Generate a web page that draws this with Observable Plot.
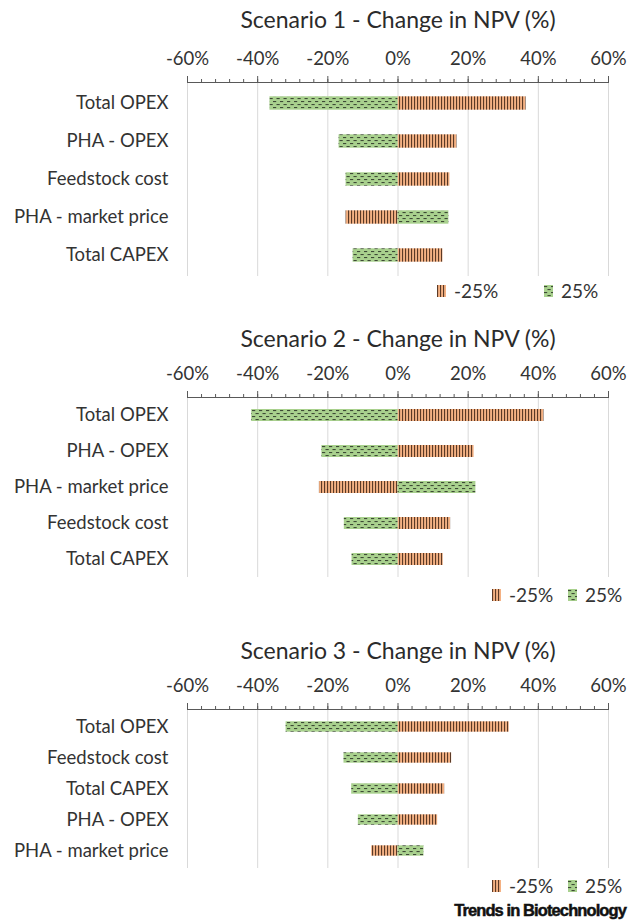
<!DOCTYPE html>
<html><head><meta charset="utf-8">
<script src="https://cdn.jsdelivr.net/npm/d3@7"></script>
<script src="https://cdn.jsdelivr.net/npm/@observablehq/plot@0.6"></script>
<style>
body{margin:0;background:#fff;font-family:Lato,"Open Sans",sans-serif;color:#333;}
#root{position:relative;width:628px;height:921px;overflow:hidden;}
.title{position:absolute;left:0;width:796px;text-align:center;font-size:23px;color:#2b2b2b;line-height:24px;}
.panel{position:absolute;left:0;top:0;}
.legend{position:absolute;font-size:19px;color:#333;line-height:20px;display:flex;align-items:center;}
.legend svg{margin-right:8px;}
.foot{position:absolute;right:2px;top:901px;font-family:"Liberation Sans",Arial,sans-serif;font-weight:bold;font-size:16.5px;letter-spacing:-0.9px;color:#111;-webkit-text-stroke:0.5px #111;}
</style></head>
<body><div id="root"></div>
<script>
// Scenario data (change in NPV, %)
const categories1 = ["Total OPEX","PHA - OPEX","Feedstock cost","PHA - market price","Total CAPEX"];
const minus25_1 = [36.5, 16.8, 14.8, -14.8, 12.8];
const plus25_1  = [-36.5, -16.8, -14.8, 14.5, -12.8];

const categories2 = ["Total OPEX","PHA - OPEX","PHA - market price","Feedstock cost","Total CAPEX"];
const minus25_2 = [41.6, 21.7, -22.4, 15.0, 12.9];
const plus25_2  = [-41.7, -21.7, 22.2, -15.3, -13.1];

const categories3 = ["Total OPEX","Feedstock cost","Total CAPEX","PHA - OPEX","PHA - market price"];
const minus25_3 = [31.7, 15.3, 13.3, 11.3, -7.5];
const plus25_3  = [-31.9, -15.4, -13.2, -11.3, 7.4];

const majorTicks = [-60,-40,-20,0,20,40,60];
const minorTicks = d3.range(-60, 61, 4);
const seriesNames = ["-25%","25%"];
const titles = ["Scenario 1 - Change in NPV (%)","Scenario 2 - Change in NPV (%)","Scenario 3 - Change in NPV (%)"];

const root = document.getElementById("root");

// pattern defs
const defsSvg = d3.select(root).append("svg").attr("width",0).attr("height",0).style("position","absolute");
const defs = defsSvg.append("defs");
const po = defs.append("pattern").attr("id","pOrange").attr("patternUnits","userSpaceOnUse").attr("width",3).attr("height",4);
po.append("rect").attr("width",3).attr("height",4).attr("fill","#F4B183");
po.append("rect").attr("x",0).attr("width",1.1).attr("height",4).attr("fill","#5b3a26");
const pg = defs.append("pattern").attr("id","pGreen").attr("patternUnits","userSpaceOnUse").attr("width",7).attr("height",6);
pg.append("rect").attr("width",7).attr("height",6).attr("fill","#A9D18E");
pg.append("rect").attr("x",0).attr("y",1).attr("width",3.2).attr("height",1.1).attr("fill","#3d4a35");
pg.append("rect").attr("x",3.5).attr("y",4).attr("width",3.2).attr("height",1.1).attr("fill","#3d4a35");

const panels = [
  {cats:categories1, m:minus25_1, p:plus25_1, titleY:7, top:40, height:236, inset:12.3, legendY:281, legendX:[437,544]},
  {cats:categories2, m:minus25_2, p:plus25_2, titleY:326, top:355, height:222, inset:12, legendY:585, legendX:[492,568]},
  {cats:categories3, m:minus25_3, p:plus25_3, titleY:638, top:667, height:201, inset:10.3, legendY:876, legendX:[492,568]}
];

panels.forEach((pn, i) => {
  const rows = pn.cats.flatMap((c, j) => [
    {cat:c, series:seriesNames[0], v:pn.m[j]},
    {cat:c, series:seriesNames[1], v:pn.p[j]}
  ]);
  const t = document.createElement("div");
  t.className = "title"; t.style.top = pn.titleY + "px"; t.textContent = titles[i];
  root.appendChild(t);

  const chart = Plot.plot({
    width: 628, height: pn.height,
    marginTop: 42, marginBottom: 0, marginLeft: 187, marginRight: 20,
    style: {fontFamily: "Lato, 'Open Sans', sans-serif", fontSize: "18.5px", color: "#333", background: "transparent", overflow: "visible"},
    x: {domain: [-60, 60]},
    y: {domain: pn.cats, padding: 0},
    marks: [
      Plot.gridX(majorTicks, {stroke: "#d9d9d9", strokeOpacity: 1}),
      Plot.barX(rows, {x1: 0, x2: "v", y: "cat", insetTop: pn.inset, insetBottom: pn.inset,
        fill: d => d.series === "-25%" ? "url(#pOrange)" : "url(#pGreen)"}),
      Plot.axisX(minorTicks, {anchor: "top", tickSize: 4, tickFormat: null, stroke: "#595959", label: null, text: null}),
      Plot.axisX(majorTicks, {anchor: "top", tickSize: 7, tickPadding: 11, tickFormat: d => d + "%", stroke: "#595959", fill: "#333", label: null}),
      Plot.frame({anchor: "top", stroke: "#595959"}),
      Plot.axisY({anchor: "left", tickSize: 0, tickPadding: 19, label: null, fill: "#333"})
    ]
  });
  chart.classList.add("panel");
  chart.style.top = pn.top + "px";
  root.appendChild(chart);

  // legend
  seriesNames.forEach((s, k) => {
    const lg = document.createElement("div");
    lg.className = "legend";
    lg.style.left = pn.legendX[k] + "px";
    lg.style.top = pn.legendY + "px";
    const fill = k === 0 ? "url(#pOrange)" : "url(#pGreen)";
    lg.innerHTML = `<svg width="9" height="12"><rect width="9" height="12" fill="${fill}"></rect></svg><span>${s}</span>`;
    root.appendChild(lg);
  });
});

const f = document.createElement("div");
f.className = "foot"; f.textContent = "Trends in Biotechnology";
root.appendChild(f);
</script>
</body></html>
